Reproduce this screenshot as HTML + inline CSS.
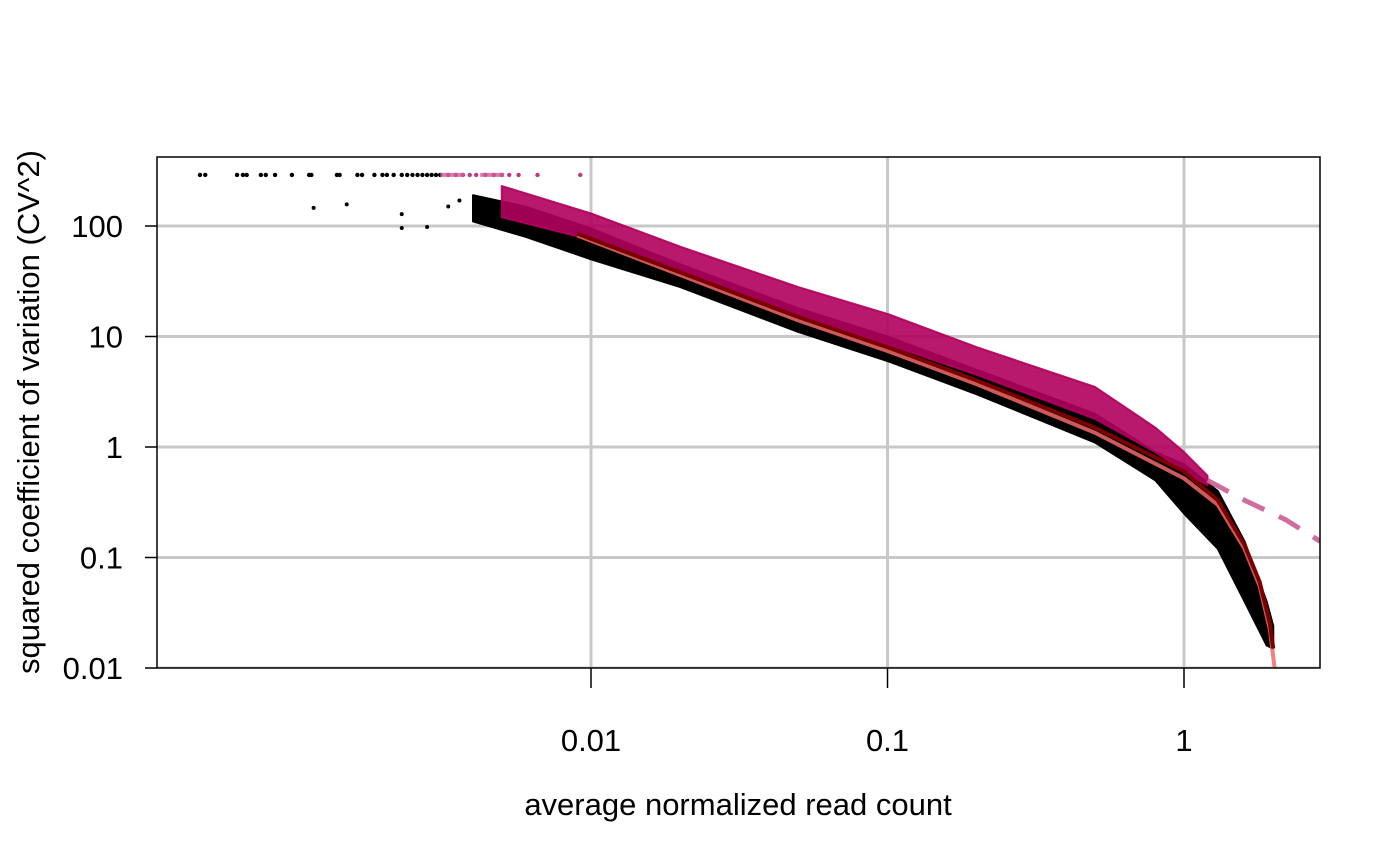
<!DOCTYPE html>
<html><head><meta charset="utf-8"><style>
body{margin:0;background:#fff}
svg{display:block;font-family:"Liberation Sans",sans-serif}
</style></head><body>
<svg id="chart" width="1400" height="865"></svg>
<script>
// ---- data ----
const xTicks=[0.01,0.1,1];
const xTickLabels=["0.01","0.1","1"];
const yTicks=[100,10,1,0.1,0.01];
const yTickLabels=["100","10","1","0.1","0.01"];
const bandMu=[0.004,0.006,0.01,0.02,0.05,0.1,0.2,0.5,0.8,1.0,1.3,1.6,1.9,2.0];
const blackUpper=[190,150,95,45,18,10,5,2,0.9,0.7,0.4,0.14,0.04,0.024];
const blackLower=[110,80,50,28,11,6,3,1.1,0.5,0.25,0.12,0.04,0.016,0.015];
const magMu=[0.005,0.01,0.02,0.05,0.1,0.2,0.5,0.8,1.0,1.2];
const magUpper=[230,130,65,28,16,8,3.5,1.5,0.9,0.55];
const magLower=[120,75,38,15,8.5,4.5,1.8,0.9,0.6,0.45];
const capBlackMu=[4.8e-4,5.0e-4,6.4e-4,6.7e-4,6.9e-4,7.7e-4,8.0e-4,8.6e-4,9.8e-4,1.12e-3,1.14e-3,1.39e-3,1.42e-3,1.63e-3,1.69e-3,1.86e-3,1.98e-3,2.05e-3,2.16e-3,2.3e-3,2.4e-3,2.5e-3,2.6e-3,2.7e-3,2.8e-3,2.9e-3,3.0e-3,3.1e-3];
const capMagMu=[3.3e-3,3.5e-3,3.7e-3,3.9e-3,4.1e-3,4.4e-3,4.7e-3,5.0e-3,5.3e-3,5.7e-3,6.6e-3,9.2e-3];
const capValue=290;
const looseMu=[1.16e-3,1.5e-3,2.3e-3,2.3e-3,2.8e-3,3.3e-3,3.6e-3];
const looseCv2=[146,157,128,96,98,150,170];
const fitMu=[0.009,0.02,0.05,0.1,0.2,0.5,1,1.3,1.6,1.8,1.95,2.0];
const fitCv2=[85,38,15,8,4,1.5,0.6,0.33,0.13,0.06,0.025,0.015];
const techMu=[0.009,0.02,0.05,0.1,0.2,0.5,1,1.3,1.6,1.8,1.95,2.03,2.05];
const techCv2=[82,36,14,7.4,3.7,1.35,0.52,0.3,0.12,0.055,0.022,0.009,0.005];
const dashMu=[1.2,1.6,2.2,2.88];
const dashCv2=[0.5,0.33,0.22,0.14];
const dashCapMu=[0.0031,0.0055];

// ---- axes ----
const L=157,R=1320,T=157,B=668;
const X=v=>1184+296.5*Math.log10(v);
const Y=v=>447-110.5*Math.log10(v);
const svg=document.getElementById('chart');
const NS='http://www.w3.org/2000/svg';
function mk(tag,at,parent){const e=document.createElementNS(NS,tag);for(const k in at)e.setAttribute(k,at[k]);(parent||svg).appendChild(e);return e;}
const defs=mk('clipPath',{id:'clip'});mk('rect',{x:L,y:T,width:R-L,height:B-T},defs);
const plot=mk('g',{'clip-path':'url(#clip)'});



xTicks.forEach((v,i)=>{const g=mk('line',{x1:X(v),x2:X(v),y1:T,y2:B,stroke:'#c8c8c8','stroke-width':3},plot);

});
yTicks.forEach((v,i)=>{const g=mk('line',{x1:L,x2:R,y1:Y(v),y2:Y(v),stroke:'#c8c8c8','stroke-width':3},plot);

});

function band(mu,up,lo,fill,op,name){
  const pts=mu.map((m,i)=>X(m)+','+Y(up[i])).concat(mu.map((m,i)=>X(m)+','+Y(lo[i])).reverse());
  const p=mk('polygon',{points:pts.join(' '),fill:fill,'fill-opacity':op,stroke:fill,'stroke-width':2,'stroke-linejoin':'round','stroke-opacity':op},plot);
  
  
}
band(bandMu,blackUpper,blackLower,'#000',1,'all-genes-cloud');
band(magMu,magUpper,magLower,'#b0005c',0.9,'highly-variable-cloud');

capBlackMu.forEach(m=>{const c=mk('circle',{cx:X(m),cy:Y(capValue),r:2.2,fill:'#000'},plot);

});
capMagMu.forEach(m=>{const c=mk('circle',{cx:X(m),cy:Y(capValue),r:2.2,fill:'#c0397a'},plot);

});
looseMu.forEach((m,i)=>{const c=mk('circle',{cx:X(m),cy:Y(looseCv2[i]),r:2,fill:'#000'},plot);

});

function line(mu,cv,st,name){
  const p=mk('polyline',Object.assign({points:mu.map((m,i)=>X(m)+','+Y(cv[i])).join(' '),fill:'none','stroke-linecap':'butt','stroke-linejoin':'round'},st),plot);
  
  
}
line(techMu,techCv2,{stroke:'#f06a6a','stroke-width':4,'stroke-opacity':0.85},'technical-noise-fit');
line(fitMu,fitCv2,{stroke:'#7a0000','stroke-width':4},'fitted-curve');
line(dashMu,dashCv2,{stroke:'#cc5c95','stroke-width':5,'stroke-dasharray':'24 16','stroke-opacity':0.9},'threshold-dashed-line');
line(dashCapMu,[capValue,capValue],{stroke:'#cc5c95','stroke-width':4,'stroke-dasharray':'24 16','stroke-opacity':0.8},'threshold-dashed-line-top');

const fr=mk('rect',{x:L,y:T,width:R-L,height:B-T,fill:'none',stroke:'#000','stroke-width':1.5});



xTicks.forEach((v,i)=>{mk('line',{x1:X(v),x2:X(v),y1:B,y2:B+20,stroke:'#000','stroke-width':1.5});
const t=mk('text',{x:X(v),y:751,'text-anchor':'middle','font-size':31});t.textContent=xTickLabels[i];

});
yTicks.forEach((v,i)=>{mk('line',{x1:L,x2:L-12,y1:Y(v),y2:Y(v),stroke:'#000','stroke-width':1.5});
const t=mk('text',{x:123,y:Y(v)+11,'text-anchor':'end','font-size':31});t.textContent=yTickLabels[i];

});

const xt=mk('text',{x:738,y:815,'text-anchor':'middle','font-size':31});xt.textContent='average normalized read count';


const yt=mk('text',{x:0,y:0,'text-anchor':'middle','font-size':31,transform:'translate(39,412) rotate(-90)'});yt.textContent='squared coefficient of variation (CV^2)';


</script>
</body></html>
